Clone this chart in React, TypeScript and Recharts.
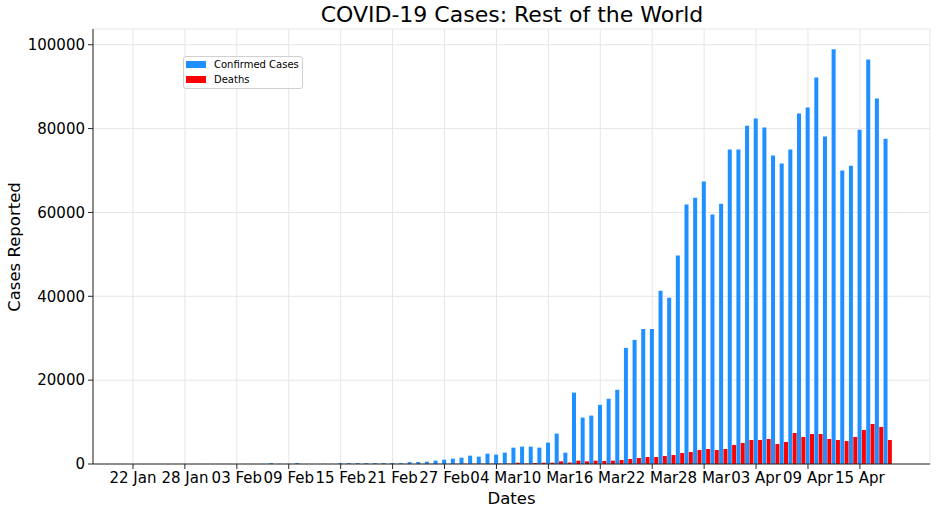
import React from 'react';
import { Bar, BarChart, CartesianGrid, Legend, XAxis, YAxis } from 'recharts';

// tick positions (days since 22 Jan) and their labels
const tickDays = [0, 6, 12, 18, 24, 30, 36, 42, 48, 54, 60, 66, 72, 78, 84];
const tickLabels = [
    '22 Jan', '28 Jan', '03 Feb', '09 Feb', '15 Feb', '21 Feb', '27 Feb', '04 Mar',
    '10 Mar', '16 Mar', '22 Mar', '28 Mar', '03 Apr', '09 Apr', '15 Apr',
];

// daily new confirmed cases, 22 Jan .. 18 Apr
const confirmed = [
    0, 0, 2, 1, 3, 7, 8, 5, 11, 7, 19, 15, 13, 9, 20, 30,
    200, 40, 50, 220, 10, 5, 40, 30, 200, 200, 210, 190, 210, 200, 230, 180,
    450, 470, 560, 800, 1040, 1270, 1510, 1990, 1750, 2470, 2230, 2710, 3900, 4140,
    4140, 3900, 5100, 7250, 2710, 17030, 11070, 11550, 14100, 15550, 17700, 27700,
    29600, 32200, 32200, 41300, 39650, 49700, 61900, 63500, 67350, 59500, 62100, 75000,
    75000, 80700, 82400, 80250, 73550, 71650, 75000, 83600, 85000, 92200, 78100, 98900,
    70000, 71150, 79750, 96500, 87150, 77600,
];

// daily deaths, same days
const deaths = [
    0, 0, 0, 0, 0, 0, 0, 0, 0, 0, 0, 0, 0, 0, 1, 0,
    0, 0, 0, 0, 0, 1, 1, 2, 0, 1, 2, 5, 4, 8, 6, 12,
    10, 12, 15, 20, 25, 40, 50, 55, 60, 70, 80, 90, 300, 100,
    240, 320, 320, 640, 360, 800, 640, 800, 720, 800, 960, 1190,
    1430, 1670, 1670, 1910, 2150, 2630, 2870, 3340, 3580, 3340, 3580, 4540,
    5020, 5730, 5730, 5970, 4780, 5250, 7400, 6450, 7160, 7160, 5970, 5730,
    5490, 6450, 8120, 9550, 8840, 5730,
];

const yTicks = [0, 20000, 40000, 60000, 80000, 100000];

const data = confirmed.map((c, i) => ({ day: i, confirmed: c, deaths: deaths[i] }));

const FONT = '"DejaVu Sans", sans-serif';
const X_DOMAIN: [number, number] = [-4.62, 92.1];
// deaths bars sit half a day to the right of the date
const X_DOMAIN_DEATHS: [number, number] = [X_DOMAIN[0] - 0.5, X_DOMAIN[1] - 0.5];
const Y_DOMAIN: [number, number] = [0, 103750];

const LegendBox = ({ payload }: any) => (
    <div
        style={{
            position: 'absolute',
            left: 183,
            top: 56,
            width: 120,
            height: 33,
            boxSizing: 'border-box',
            border: '1px solid #d0d0d0',
            borderRadius: 3,
            background: 'rgba(255,255,255,0.8)',
            fontFamily: FONT,
            fontSize: 10,
            color: '#000',
        }}
    >
        {(payload || []).map((p: any, i: number) => (
            <div key={p.value} style={{ position: 'absolute', left: 2, top: 4 + i * 15, height: 7, display: 'flex', alignItems: 'center' }}>
                <span style={{ display: 'inline-block', width: 20, height: 7, background: p.color }} />
                <span style={{ marginLeft: 8, lineHeight: '7px', whiteSpace: 'nowrap' }}>{p.value}</span>
            </div>
        ))}
    </div>
);

export default function App() {
    return (
        <div style={{ position: 'absolute', left: 0, top: 0, width: 937, height: 515, background: '#fff', fontFamily: FONT }}>
            <BarChart width={937} height={515} data={data} margin={{ top: 29, right: 7, bottom: 0, left: 0 }}>
                <CartesianGrid stroke="#e6e6e6" horizontal vertical />
                <XAxis
                    dataKey="day"
                    type="number"
                    domain={X_DOMAIN}
                    allowDataOverflow
                    ticks={tickDays}
                    interval={0}
                    tickFormatter={(v: number) => tickLabels[tickDays.indexOf(v)]}
                    height={51}
                    tickSize={5}
                    tickMargin={3}
                    tick={{ fontSize: 15, fill: '#000', fontFamily: FONT }}
                    stroke="#262626"
                    tickLine={{ stroke: '#262626' }}
                />
                <XAxis
                    xAxisId="deaths"
                    dataKey="day"
                    type="number"
                    orientation="top"
                    domain={X_DOMAIN_DEATHS}
                    allowDataOverflow
                    height={0}
                    tick={false}
                    tickLine={false}
                    stroke="#262626"
                />
                <YAxis
                    type="number"
                    domain={Y_DOMAIN}
                    allowDataOverflow
                    ticks={yTicks}
                    interval={0}
                    width={93}
                    tickSize={5}
                    tickMargin={3}
                    tick={{ fontSize: 15, fill: '#000', fontFamily: FONT }}
                    stroke="#262626"
                    tickLine={{ stroke: '#262626' }}
                />
                <YAxis yAxisId="frame" orientation="right" domain={Y_DOMAIN} width={0} tick={false} tickLine={false} stroke="#262626" />
                <Legend
                    content={<LegendBox />}
                    wrapperStyle={{ position: 'absolute', left: 0, top: 0, width: 0, height: 0, bottom: 'auto', right: 'auto' }}
                />
                <Bar dataKey="confirmed" name="Confirmed Cases" fill="#1E90FF" barSize={4} isAnimationActive={false} />
                <Bar dataKey="deaths" name="Deaths" xAxisId="deaths" fill="#FF0000" barSize={4} isAnimationActive={false} />
            </BarChart>
            <svg width={937} height={515} style={{ position: 'absolute', left: 0, top: 0, pointerEvents: 'none' }}>
                <text x={512} y={22} textAnchor="middle" fontSize={22} fontFamily={FONT} fill="#000">
                    COVID-19 Cases: Rest of the World
                </text>
                <text x={511.5} y={504} textAnchor="middle" fontSize={16.5} fontFamily={FONT} fill="#000">
                    Dates
                </text>
                <text transform="translate(20,247) rotate(-90)" textAnchor="middle" fontSize={16.5} fontFamily={FONT} fill="#000">
                    Cases Reported
                </text>
            </svg>
        </div>
    );
}
